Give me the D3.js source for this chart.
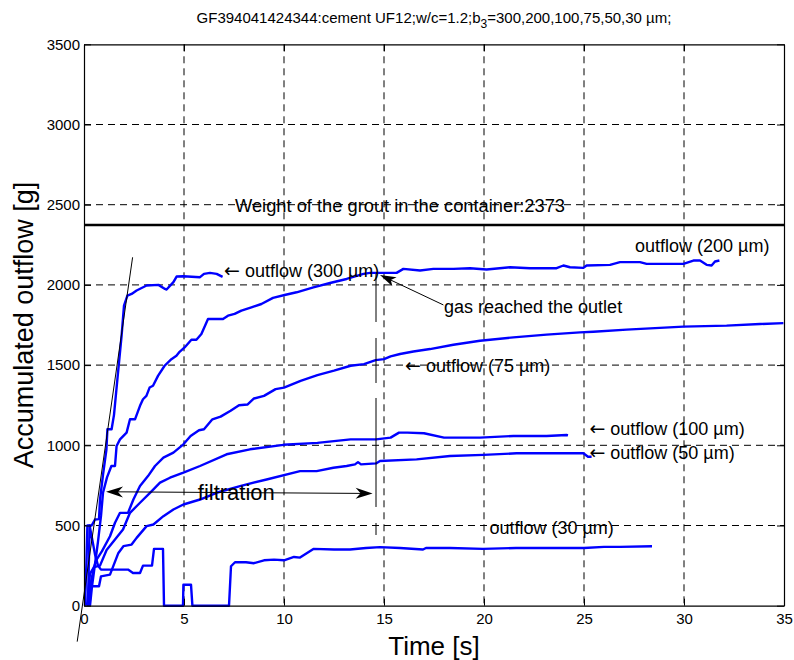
<!DOCTYPE html>
<html><head><meta charset="utf-8">
<script src="https://cdn.jsdelivr.net/npm/d3@7"></script>
<style>
body{margin:0;background:#fff}
svg{display:block}
text{font-family:"Liberation Sans",Arial,Helvetica,sans-serif;fill:#000}
</style>
</head><body>
<svg id="c" width="794" height="660"></svg>
<script>
// ---------- data ----------
const xTicks = [0,5,10,15,20,25,30,35];
const yTicks = [0,500,1000,1500,2000,2500,3000,3500];
const grout = 2373;

const s300 = [[0.05,0],[0.12,260],[0.17,500],[0.38,500],[0.55,537],[0.75,540],[0.8,662],[0.95,815],[1.12,971],[1.17,1100],[1.38,1100],[1.5,1190],[1.67,1412],[1.88,1683],[2.0,1871],[2.17,1933],[2.38,1944],[2.63,1965],[3.13,1996],[3.72,2000],[4.05,1975],[4.13,1971],[4.47,2017],[4.63,2052],[4.97,2054],[5.8,2048],[6.0,2069],[6.3,2075],[6.63,2069],[6.93,2050]];

const s200 = [[0.3,0],[0.4,120],[0.55,260],[0.7,400],[0.85,560],[0.95,704],[1.15,800],[1.37,871],[1.55,871],[1.63,996],[1.8,1037],[2.13,1079],[2.3,1162],[2.55,1162],[2.8,1246],[2.95,1287],[3.12,1308],[3.28,1360],[3.45,1371],[3.7,1433],[4.03,1496],[4.37,1537],[4.62,1558],[4.78,1583],[5.03,1610],[5.37,1658],[5.62,1658],[5.87,1694],[6.2,1787],[6.95,1787],[7.2,1808],[7.53,1819],[7.87,1840],[8.37,1860],[8.87,1881],[9.45,1919],[10.03,1937],[10.63,1954],[11.47,1985],[12.3,2012],[13.13,2037],[13.97,2069],[14.3,2075],[15.63,2075],[15.97,2100],[16.8,2090],[17.47,2100],[18.47,2100],[19.3,2104],[20.13,2096],[21.3,2110],[22.3,2104],[23.63,2104],[23.97,2121],[24.3,2110],[24.97,2106],[25.13,2121],[26.3,2125],[26.8,2142],[27.8,2142],[28.13,2131],[29.97,2131],[30.47,2152],[30.8,2152],[31.13,2125],[31.38,2121],[31.55,2146],[31.77,2152]];

const s100 = [[0.15,0],[0.3,200],[0.5,240],[0.8,250],[1.13,347],[1.55,412],[1.95,475],[2.3,579],[2.8,642],[3.3,704],[3.8,767],[4.3,798],[4.97,829],[5.8,871],[7.13,944],[8.3,975],[9.97,1003],[11.67,1015],[13.33,1037],[14.6,1037],[15.33,1048],[15.75,1079],[16.17,1079],[17.0,1075],[18.0,1048],[19.8,1048],[21.47,1058],[23.13,1058],[24.13,1064],[24.2,1062]];

const s75 = [[0.2,0],[0.35,150],[0.5,240],[0.63,287],[0.9,340],[1.3,433],[1.55,517],[1.8,579],[2.2,579],[2.47,662],[2.8,746],[3.2,808],[3.55,871],[3.97,923],[4.47,954],[4.97,1006],[5.33,1058],[5.75,1094],[6.0,1100],[6.42,1162],[6.83,1179],[7.33,1215],[7.75,1250],[8.17,1254],[8.5,1292],[9.0,1308],[9.58,1350],[10.0,1360],[10.83,1402],[11.67,1437],[12.5,1465],[13.33,1496],[14.0,1506],[14.58,1531],[15.0,1537],[15.33,1554],[15.8,1569],[16.47,1585],[17.3,1600],[18.47,1627],[19.8,1652],[21.47,1673],[23.13,1690],[24.8,1704],[25.47,1708],[27.13,1721],[29.97,1740],[32.13,1746],[33.8,1756],[34.97,1762]];

const s50 = [[0.28,0],[0.33,121],[0.75,121],[0.85,183],[1.3,194],[1.72,329],[1.97,371],[2.38,381],[2.63,423],[3.13,496],[3.47,506],[3.97,558],[4.47,600],[4.97,631],[5.8,662],[6.63,704],[7.8,746],[9.13,787],[10.8,839],[11.63,839],[12.47,860],[13.13,871],[13.55,881],[13.7,895],[13.85,881],[14.6,887],[14.8,902],[16.63,912],[18.3,933],[19.97,940],[21.63,950],[23.3,950],[24.97,950],[25.2,929],[25.38,929]];

const s30 = [[0.2,0],[0.28,500],[0.4,420],[0.55,320],[0.7,250],[0.85,225],[2.2,225],[2.45,204],[2.8,204],[2.95,250],[3.4,250],[3.5,354],[3.95,354],[4.0,0],[4.95,0],[4.97,131],[5.35,131],[5.42,0],[7.25,0],[7.35,246],[7.55,271],[8.1,271],[8.5,265],[9.0,283],[9.5,287],[10.0,283],[10.5,304],[10.8,300],[11.47,354],[12.5,350],[13.3,350],[14.1,360],[14.8,365],[15.8,360],[16.95,350],[17.1,360],[18.3,360],[19.95,354],[21.6,360],[23.3,360],[25,360],[26,367],[26.8,367],[28.4,371]];

const series = [s300, s200, s100, s75, s50, s30];

// annotation texts and anchors (data coords: t, value)
const labels = [
  {t:7.0,  v:2049, arrow:true,  txt:"outflow (300 \u00b5m)"},
  {t:27.55,v:2207, arrow:false, txt:"outflow (200 \u00b5m)"},
  {t:18.0, v:1825, arrow:false, txt:"gas reached the outlet"},
  {t:16.05,v:1459, arrow:true,  txt:"outflow (75 \u00b5m)"},
  {t:25.27,v:1064, arrow:true,  txt:"outflow (100 \u00b5m)"},
  {t:25.27,v:913,  arrow:true,  txt:"outflow (50 \u00b5m)"},
  {t:20.27,v:447,  arrow:false, txt:"outflow (30 \u00b5m)"}
];
const weightLabel = {t:7.55, v:2456, txt:"Weight of the grout in the container:2373"};
const filtration = {t0:1.1, v0:710, t1:14.43, v1:700, lt:5.69, lv:659, txt:"filtration"};
const gasArrow = {t0:17.97, v0:1875, t1:14.8, v1:2062};
const tangent = {t0:-0.34, v0:-224, t1:2.43, v1:2172};
const marker = {t:14.6, v0:2068, v1:440};

// ---------- drawing ----------
const svg = d3.select("#c");
const L=84, R=784, T=44.3, B=605.7;
const x = d3.scaleLinear().domain([0,35]).range([L,R]);
const y = d3.scaleLinear().domain([0,3500]).range([B,T]);

// grid
const g = svg.append("g");
g.selectAll("line.vx").data(xTicks.filter(d=>d>0&&d<35)).join("line")
  .attr("x1",d=>x(d)).attr("x2",d=>x(d)).attr("y1",T).attr("y2",B)
  .attr("stroke","#000").attr("stroke-width",1).attr("stroke-dasharray","7,5");
g.selectAll("line.hy").data(yTicks.filter(d=>d>0&&d<3500)).join("line")
  .attr("x1",L).attr("x2",R).attr("y1",d=>y(d)).attr("y2",d=>y(d))
  .attr("stroke","#000").attr("stroke-width",1).attr("stroke-dasharray","7,5");

// weight line
svg.append("line").attr("x1",L).attr("x2",R).attr("y1",y(grout)).attr("y2",y(grout))
  .attr("stroke","#000").attr("stroke-width",2.5);

// series
const line = d3.line().x(d=>x(d[0])).y(d=>y(d[1]));
svg.append("g").selectAll("path").data(series).join("path")
  .attr("d",line).attr("fill","none").attr("stroke","#0000ff")
  .attr("stroke-width",2.4).attr("stroke-linejoin","round");

// tangent line
svg.append("line").attr("x1",x(tangent.t0)).attr("y1",y(tangent.v0))
  .attr("x2",x(tangent.t1)).attr("y2",y(tangent.v1))
  .attr("stroke","#000").attr("stroke-width",1);

// marker vertical line
svg.append("line").attr("x1",x(marker.t)).attr("x2",x(marker.t))
  .attr("y1",y(marker.v0)).attr("y2",y(marker.v1))
  .attr("stroke","#000").attr("stroke-width",1)
  .attr("stroke-dasharray","48,16,45,15,109,16,12,30");

// arrow helper
function arrow(x0,y0,x1,y1,L2,w,n){
  const dx=x1-x0, dy=y1-y0, len=Math.hypot(dx,dy), ux=dx/len, uy=dy/len, px=-uy, py=ux;
  const bx=x1-ux*L2, by=y1-uy*L2, nx=x1-ux*(L2-n), ny=y1-uy*(L2-n);
  return `M${x1},${y1}L${bx+px*w},${by+py*w}L${nx},${ny}L${bx-px*w},${by-py*w}Z`;
}
// filtration double arrow
{
  const ax=x(filtration.t0), ay=y(filtration.v0), bx=x(filtration.t1), by=y(filtration.v1);
  svg.append("line").attr("x1",ax+10).attr("y1",ay).attr("x2",bx-10).attr("y2",by)
    .attr("stroke","#000").attr("stroke-width",1);
  svg.append("path").attr("d",arrow(bx,by,ax,ay,17,5.5,5)).attr("fill","#000");
  svg.append("path").attr("d",arrow(ax,ay,bx,by,17,5.5,5)).attr("fill","#000");
  svg.append("text").attr("x",x(filtration.lt)).attr("y",y(filtration.lv))
    .attr("font-size",22).text(filtration.txt);
}
// gas arrow
{
  const ax=x(gasArrow.t0), ay=y(gasArrow.v0), bx=x(gasArrow.t1), by=y(gasArrow.v1);
  svg.append("line").attr("x1",ax).attr("y1",ay).attr("x2",bx+(ax-bx)*0.15).attr("y2",by+(ay-by)*0.15)
    .attr("stroke","#000").attr("stroke-width",1);
  svg.append("path").attr("d",arrow(ax,ay,bx,by,16,5,4)).attr("fill","#000");
}

// labels
const lab = svg.append("g").selectAll("text").data(labels).join("text")
  .attr("x",d=>x(d.t)).attr("y",d=>y(d.v)).attr("font-size",18);
lab.filter(d=>d.arrow).append("tspan")
  .attr("font-family",'"DejaVu Sans",sans-serif').attr("font-size",19).text("\u2190");
lab.append("tspan").attr("dx",d=>d.arrow?5:0).text(d=>d.txt);
svg.append("text").attr("x",x(weightLabel.t)).attr("y",y(weightLabel.v))
  .attr("font-size",18.3).text(weightLabel.txt);

// axes
function styleAxis(sel){
  sel.selectAll("path.domain").attr("stroke","#000").attr("stroke-width",1.2);
  sel.selectAll(".tick line").attr("stroke","#000").attr("stroke-width",1);
  sel.selectAll(".tick text").attr("font-size",15).attr("fill","#000")
    .attr("font-family",'"Liberation Sans",Arial,Helvetica,sans-serif');
}
svg.append("g").attr("transform",`translate(0,${B})`)
  .call(d3.axisBottom(x).tickValues(xTicks).tickFormat(d3.format("d")).tickSizeInner(-7).tickSizeOuter(0).tickPadding(8))
  .call(styleAxis);
svg.append("g").attr("transform",`translate(${L},0)`)
  .call(d3.axisLeft(y).tickValues(yTicks).tickFormat(d3.format("d")).tickSizeInner(-7).tickSizeOuter(0).tickPadding(4))
  .call(styleAxis);
svg.append("g").attr("transform",`translate(0,${T})`)
  .call(d3.axisTop(x).tickValues(xTicks).tickFormat("").tickSizeInner(-7).tickSizeOuter(0))
  .call(styleAxis);
svg.append("g").attr("transform",`translate(${R},0)`)
  .call(d3.axisRight(y).tickValues(yTicks).tickFormat("").tickSizeInner(-7).tickSizeOuter(0))
  .call(styleAxis);
svg.selectAll(".domain").attr("fill","none");

// title
const title = svg.append("text").attr("x",(L+R)/2).attr("y",22.7)
  .attr("text-anchor","middle").attr("font-size",15);
title.append("tspan").text("GF394041424344:cement UF12;w/c=1.2;b");
title.append("tspan").attr("font-size",12).attr("dy",5).text("3");
title.append("tspan").attr("dy",-5).text("=300,200,100,75,50,30 \u00b5m;");

// axis labels
svg.append("text").attr("x",(L+R)/2).attr("y",655).attr("text-anchor","middle")
  .attr("font-size",26).text("Time [s]");
svg.append("text").attr("transform","translate(33,325) rotate(-90)").attr("text-anchor","middle")
  .attr("font-size",27).text("Accumulated outflow [g]");
</script>
</body></html>
